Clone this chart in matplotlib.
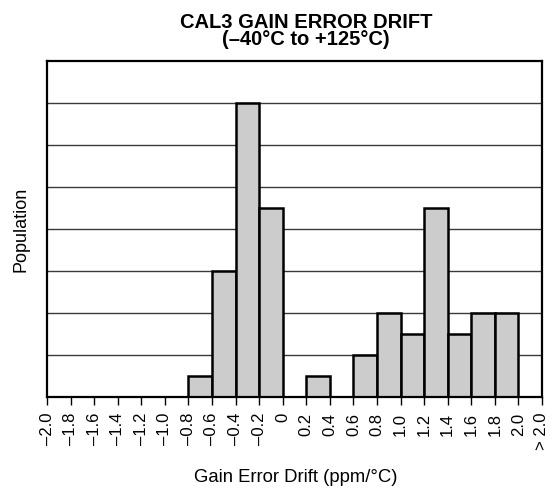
import matplotlib
matplotlib.use("Agg")
import matplotlib.pyplot as plt
import numpy as np

tick_labels = ["–2.0", "–1.8", "–1.6", "–1.4", "–1.2", "–1.0", "–0.8", "–0.6", "–0.4", "–0.2",
               "0", "0.2", "0.4", "0.6", "0.8", "1.0", "1.2", "1.4", "1.6", "1.8", "2.0", "> 2.0"]
# counts per bin (bin i spans tick i to tick i+1)
counts = [0, 0, 0, 0, 0, 0, 1, 6, 14, 9, 0, 1, 0, 2, 4, 3, 9, 3, 4, 4, 0]

plt.rcParams['font.family'] = ['Liberation Sans', 'DejaVu Sans']

W, H = 558, 489
fig = plt.figure(figsize=(W / 100, H / 100), dpi=100)
ax = fig.add_axes([47 / W, 1 - 398 / H, (542 - 47) / W, (398 - 62) / H])

x = np.arange(len(counts))
for gy in range(2, 16, 2):
    ax.axhline(gy, color='#3a3a3a', lw=1.0, zorder=1)
for xi, c in zip(x, counts):
    if c > 0:
        ax.bar(xi, c, width=1.0, align='edge', color='#cccccc', edgecolor='black',
               linewidth=1.8, zorder=2)

ax.set_xlim(0, len(counts))
ax.set_ylim(0, 16)
ax.set_xticks(np.arange(len(tick_labels)))
ax.set_xticklabels(tick_labels, rotation=90, fontsize=12)
ax.set_yticks([])
ax.tick_params(axis='x', direction='out', length=5.5, width=1.0, pad=5)
for s in ax.spines.values():
    s.set_linewidth(1.6)

fig.text(21 / W, 1 - 229 / H, "Population", rotation=90, fontsize=13,
         ha='center', va='center')
fig.text(295.5 / W, 1 - 482 / H, "Gain Error Drift (ppm/°C)", fontsize=13.3,
         ha='center', va='baseline')
fig.text(306 / W, 1 - 49 / H, "CAL3 GAIN ERROR DRIFT\n(–40°C to +125°C)", fontsize=14.5,
         fontweight='bold', ha='center', va='bottom', linespacing=0.84,
         multialignment='center')

fig.savefig("out.png", dpi=100)
